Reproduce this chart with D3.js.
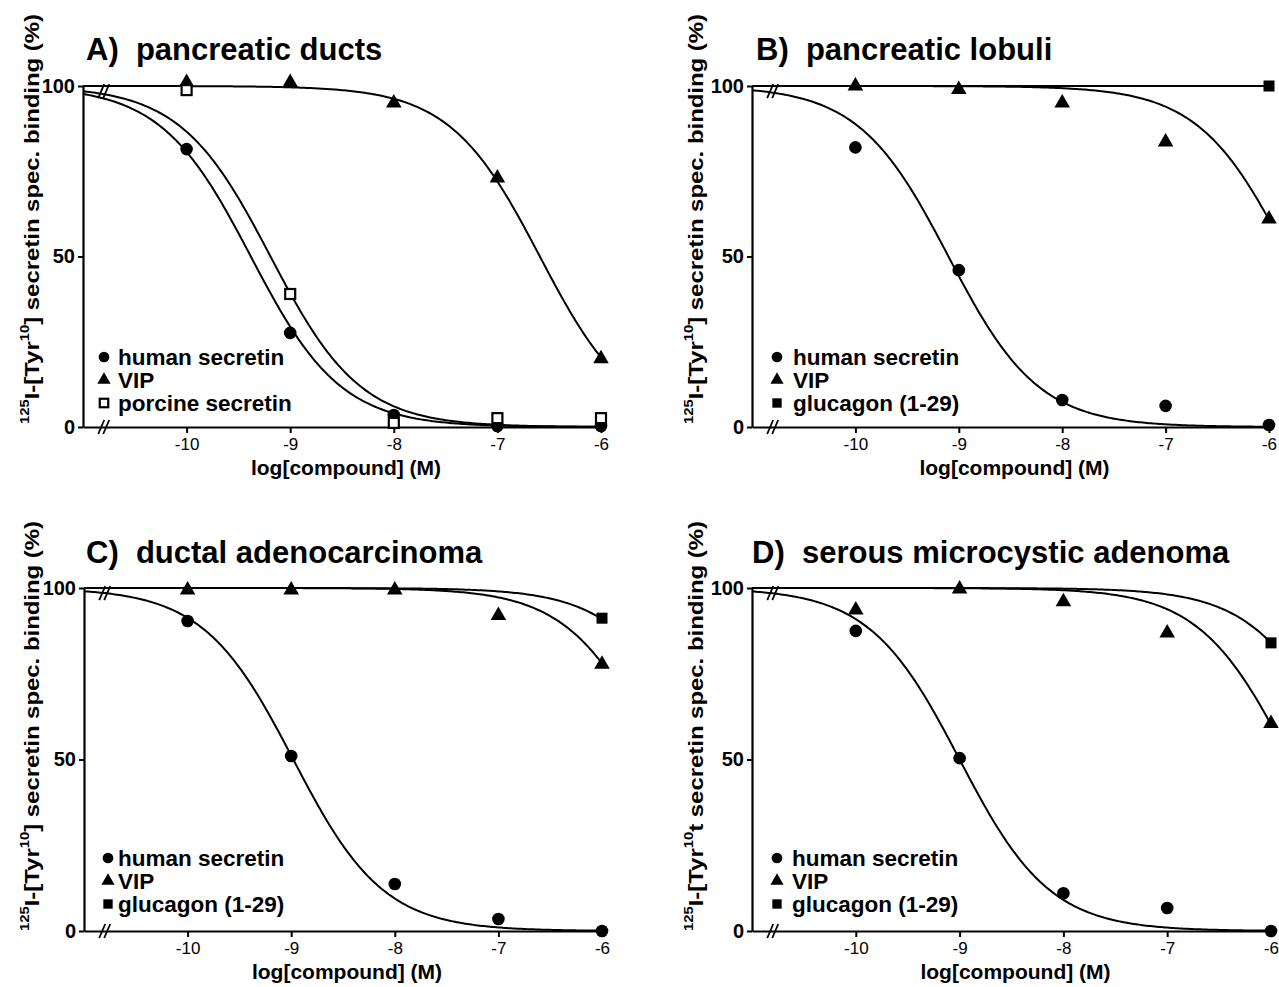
<!DOCTYPE html>
<html>
<head>
<meta charset="utf-8">
<script src="https://cdn.jsdelivr.net/npm/d3@7"></script>
<style>
  html, body { margin: 0; padding: 0; background: #ffffff; }
  svg { display: block; font-family: "Liberation Sans", Arial, Helvetica, sans-serif; }
</style>
</head>
<body>
<svg id="chart" width="1279" height="987"></svg>
<script>
// ---------------- data ----------------
const concentrations = [-10, -9, -8, -7, -6];          // log[compound] (M)
const xTickLabels = ["-10", "-9", "-8", "-7", "-6"];
const yTickValues = [0, 50, 100];
const yTickLabels = ["0", "50", "100"];
const xDomain = [-11, -6];
const breakPosition = -10.8;

const panelTitles = ["A)  pancreatic ducts", "B)  pancreatic lobuli", "C)  ductal adenocarcinoma", "D)  serous microcystic adenoma"];
const yLabelBracket = ["]", "]", "]", "t"];
const xAxisTitle = "log[compound] (M)";

// % specific binding (null = no visible point)
const aHumanSecretin   = [81.5, 27.6, 3.5, 0.3, 0.3];
const aVIP             = [101, 101, 95, 73, 20];
const aPorcineSecretin = [98.8, 39, 1.2, 2.6, 2.6];

const bHumanSecretin = [82, 46, 7.9, 6.2, 0.6];
const bVIP           = [100, 99, 95, 83.6, 61];
const bGlucagon      = [null, null, null, null, 100];

const cHumanSecretin = [90.4, 51, 13.7, 3.5, 0];
const cVIP           = [99.4, 99.4, 99.4, 92, 77.8];
const cGlucagon      = [null, null, null, null, 91.2];

const dHumanSecretin = [87.5, 50.4, 11, 6.7, 0];
const dVIP           = [93.6, 99.7, 96, 86.9, 60.5];
const dGlucagon      = [null, null, null, null, 84];

// fitted one-site competition curves: logIC50 per series (top 100, bottom 0, Hill slope 1)
const aFitLogIC50 = [-9.38, -6.59, -9.19];
const bFitLogIC50 = [-9.1, -5.81, -2.0];
const cFitLogIC50 = [-8.98, -5.45, -5.0];
const dFitLogIC50 = [-9.0, -5.82, -5.28];

const seriesNamesA = ["human secretin", "VIP", "porcine secretin"];
const seriesNamesBCD = ["human secretin", "VIP", "glucagon (1-29)"];

// ---------------- layout ----------------
const layout = [
  {x0: 83,  x1: 601,  y100: 86,  yZero: 427, title: [86, 60],  ylab: [31, 219],  legend: [104, 118, 357]},
  {x0: 752, x1: 1269, y100: 86,  yZero: 427, title: [756, 60], ylab: [695, 219], legend: [777, 793, 357]},
  {x0: 84,  x1: 602,  y100: 588, yZero: 931, title: [86, 563], ylab: [31, 726],  legend: [108, 118, 858]},
  {x0: 752, x1: 1271, y100: 588, yZero: 931, title: [752, 563],ylab: [695, 726], legend: [777, 792, 858]}
];

const panels = [
  {names: seriesNamesA,   values: [aHumanSecretin, aVIP, aPorcineSecretin], fits: aFitLogIC50, shapes: ["circle", "triangle", "openSquare"]},
  {names: seriesNamesBCD, values: [bHumanSecretin, bVIP, bGlucagon],        fits: bFitLogIC50, shapes: ["circle", "triangle", "square"]},
  {names: seriesNamesBCD, values: [cHumanSecretin, cVIP, cGlucagon],        fits: cFitLogIC50, shapes: ["circle", "triangle", "square"]},
  {names: seriesNamesBCD, values: [dHumanSecretin, dVIP, dGlucagon],        fits: dFitLogIC50, shapes: ["circle", "triangle", "square"]}
];

const svg = d3.select("#chart");
svg.append("rect").attr("width", 1279).attr("height", 987).attr("fill", "#fff");

function drawMarker(g, shape, cx, cy, s) {
  if (shape === "circle") {
    g.append("circle").attr("cx", cx).attr("cy", cy).attr("r", 6.3 * s).attr("fill", "#000");
  } else if (shape === "triangle") {
    g.append("path").attr("transform", `translate(${cx},${cy})`)
      .attr("d", d3.symbol().type(d3.symbolTriangle).size(105 * s * s)()).attr("fill", "#000");
  } else if (shape === "square") {
    const w = 11 * s;
    g.append("rect").attr("x", cx - w / 2).attr("y", cy - w / 2).attr("width", w).attr("height", w).attr("fill", "#000");
  } else if (shape === "openSquare") {
    const w = 10 * s;
    g.append("rect").attr("x", cx - w / 2).attr("y", cy - w / 2).attr("width", w).attr("height", w)
      .attr("fill", "#fff").attr("stroke", "#000").attr("stroke-width", 2.2);
  }
}

panels.forEach((p, i) => {
  const L = layout[i];
  const g = svg.append("g");
  const x = d3.scaleLinear().domain(xDomain).range([L.x0, L.x1]);
  const y = d3.scaleLinear().domain([0, 100]).range([L.yZero, L.y100]);

  // title
  g.append("text").attr("x", L.title[0]).attr("y", L.title[1])
    .style("white-space", "pre").attr("font-size", 31).attr("font-weight", "bold")
    .text(panelTitles[i]);

  // y-axis label
  const yl = g.append("text")
    .attr("transform", `translate(${L.ylab[0]},${L.ylab[1]}) rotate(-90)`)
    .attr("text-anchor", "middle").attr("dominant-baseline", "central")
    .attr("textLength", 410).attr("lengthAdjust", "spacingAndGlyphs")
    .attr("font-size", 21).attr("font-weight", "bold").style("white-space", "pre");
  yl.append("tspan").attr("font-size", 13).attr("dy", -7).text("125");
  yl.append("tspan").attr("dy", 7).text("I-[Tyr");
  yl.append("tspan").attr("font-size", 13).attr("dy", -7).text("10");
  yl.append("tspan").attr("dy", 7).text(yLabelBracket[i] + " secretin spec. binding (%)");

  // axes
  const xAxis = d3.axisBottom(x).tickValues(concentrations)
    .tickFormat((d, k) => xTickLabels[k]).tickSize(6).tickSizeOuter(0).tickPadding(5);
  const gx = g.append("g").attr("transform", `translate(0,${L.yZero})`).call(xAxis);
  gx.select(".domain").attr("stroke-width", 2.2);
  gx.selectAll(".tick line").attr("stroke-width", 2);
  gx.selectAll(".tick text").attr("font-size", 17).attr("font-family", "Liberation Sans, Arial, sans-serif").attr("fill", "#000");

  const yAxis = d3.axisLeft(y).tickValues(yTickValues)
    .tickFormat((d, k) => yTickLabels[k]).tickSize(5).tickSizeOuter(0).tickPadding(3);
  const gy = g.append("g").attr("transform", `translate(${L.x0},0)`).call(yAxis);
  gy.select(".domain").attr("stroke-width", 2.2);
  gy.selectAll(".tick line").attr("stroke-width", 2);
  gy.selectAll(".tick text").attr("font-size", 20).attr("font-weight", "bold")
    .attr("font-family", "Liberation Sans, Arial, sans-serif").attr("fill", "#000");

  // x axis title
  g.append("text").attr("x", (L.x0 + L.x1) / 2 + 4).attr("y", L.yZero + 48)
    .attr("text-anchor", "middle").attr("font-size", 21).attr("font-weight", "bold")
    .text(xAxisTitle);

  // fitted curves
  const xs = d3.range(xDomain[0], xDomain[1] + 1e-9, 0.02);
  const line = d3.line().x(d => x(d[0])).y(d => y(d[1]));
  p.fits.forEach(c => {
    const pts = xs.map(v => [v, 100 / (1 + Math.pow(10, v - c))]);
    g.append("path").attr("d", line(pts)).attr("fill", "none").attr("stroke", "#000").attr("stroke-width", 2);
  });

  // axis break marks
  [y(0), y(98.5)].forEach(by => {
    const bx = x(breakPosition);
    [-2.5, 2.5].forEach(off => {
      g.append("line").attr("x1", bx + off - 3).attr("y1", by + 7).attr("x2", bx + off + 3).attr("y2", by - 7)
        .attr("stroke", "#000").attr("stroke-width", 1.8);
    });
  });

  // data points
  p.values.forEach((vals, s) => {
    vals.forEach((v, k) => {
      if (v === null) return;
      drawMarker(g, p.shapes[s], x(concentrations[k]), y(v), 1);
    });
  });

  // legend
  p.names.forEach((name, s) => {
    const ly = L.legend[2] + s * 23;
    drawMarker(g, p.shapes[s], L.legend[0], ly, 0.85);
    g.append("text").attr("x", L.legend[1]).attr("y", ly).attr("dominant-baseline", "central")
      .attr("font-size", 22.5).attr("font-weight", "bold").text(name);
  });
});
</script>
</body>
</html>
